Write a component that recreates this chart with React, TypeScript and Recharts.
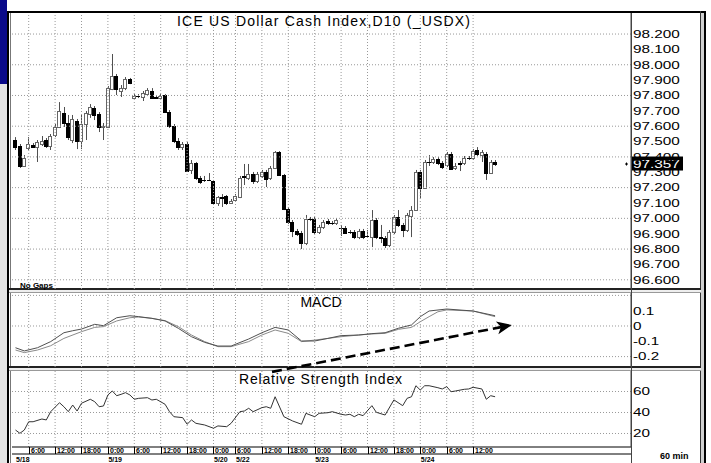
import { ComposedChart, Bar, Line, XAxis, YAxis, ReferenceLine } from "recharts";

const FONT = "'Liberation Sans', Arial, Helvetica, sans-serif";

// hourly bars from 5/18 3:00 to 5/24 13:00 : [open, high, low, close]
const ohlc: [number, number, number, number][] = [
  [97.51, 97.529, 97.445, 97.464], [97.471, 97.484, 97.328, 97.341], [97.341, 97.412, 97.335, 97.393],
  [97.458, 97.529, 97.445, 97.484], [97.477, 97.49, 97.458, 97.464], [97.464, 97.51, 97.367, 97.497],
  [97.484, 97.536, 97.471, 97.503], [97.51, 97.523, 97.458, 97.471], [97.471, 97.549, 97.445, 97.536],
  [97.542, 97.614, 97.529, 97.595], [97.595, 97.757, 97.588, 97.699], [97.686, 97.725, 97.595, 97.621],
  [97.621, 97.673, 97.51, 97.529], [97.51, 97.673, 97.49, 97.647], [97.634, 97.647, 97.451, 97.503],
  [97.503, 97.673, 97.451, 97.614], [97.614, 97.699, 97.51, 97.686], [97.679, 97.744, 97.654, 97.725],
  [97.718, 97.731, 97.64, 97.673], [97.679, 97.692, 97.562, 97.595], [97.595, 97.621, 97.51, 97.601],
  [97.595, 97.861, 97.588, 97.848], [97.842, 98.07, 97.835, 97.927], [97.927, 97.94, 97.803, 97.842],
  [97.829, 97.868, 97.79, 97.848], [97.848, 97.92, 97.835, 97.907], [97.907, 97.914, 97.874, 97.881],
  [97.783, 97.809, 97.777, 97.796], [97.796, 97.809, 97.783, 97.799], [97.79, 97.829, 97.764, 97.816],
  [97.809, 97.848, 97.796, 97.835], [97.829, 97.848, 97.777, 97.783], [97.79, 97.799, 97.777, 97.783],
  [97.783, 97.809, 97.777, 97.796], [97.803, 97.809, 97.686, 97.692], [97.692, 97.705, 97.588, 97.601],
  [97.601, 97.614, 97.49, 97.503], [97.503, 97.523, 97.445, 97.464], [97.464, 97.497, 97.445, 97.484],
  [97.484, 97.497, 97.302, 97.308], [97.315, 97.38, 97.289, 97.36], [97.36, 97.367, 97.25, 97.263],
  [97.263, 97.276, 97.224, 97.237], [97.25, 97.276, 97.237, 97.247], [97.247, 97.295, 97.243, 97.25],
  [97.243, 97.25, 97.087, 97.1], [97.1, 97.145, 97.081, 97.139], [97.139, 97.158, 97.074, 97.135],
  [97.145, 97.152, 97.087, 97.1], [97.1, 97.126, 97.094, 97.113], [97.119, 97.158, 97.113, 97.145],
  [97.139, 97.276, 97.132, 97.263], [97.276, 97.354, 97.217, 97.272], [97.263, 97.354, 97.25, 97.289],
  [97.289, 97.302, 97.224, 97.243], [97.243, 97.302, 97.23, 97.289], [97.276, 97.315, 97.263, 97.302],
  [97.302, 97.315, 97.204, 97.256], [97.263, 97.341, 97.25, 97.328], [97.328, 97.438, 97.321, 97.432],
  [97.432, 97.438, 97.276, 97.282], [97.282, 97.289, 97.054, 97.061], [97.061, 97.074, 96.963, 96.976],
  [96.976, 96.989, 96.878, 96.918], [96.918, 96.931, 96.885, 96.898], [96.905, 96.918, 96.8, 96.839],
  [96.839, 97.022, 96.826, 96.996], [96.996, 97.009, 96.983, 96.993], [96.996, 97.009, 96.898, 96.911],
  [96.911, 96.957, 96.898, 96.944], [96.944, 96.989, 96.931, 96.976], [96.983, 96.996, 96.957, 96.97],
  [96.97, 96.983, 96.957, 96.968], [96.97, 97.002, 96.957, 96.989], [96.937, 96.957, 96.885, 96.934],
  [96.937, 96.95, 96.898, 96.905], [96.911, 96.924, 96.898, 96.908], [96.911, 96.924, 96.865, 96.878],
  [96.878, 96.931, 96.865, 96.918], [96.918, 96.931, 96.865, 96.878], [96.885, 96.924, 96.872, 96.882],
  [96.878, 97.054, 96.813, 96.989], [96.989, 97.002, 96.865, 96.878], [96.878, 96.957, 96.839, 96.875],
  [96.872, 96.885, 96.807, 96.826], [96.826, 96.924, 96.813, 96.911], [96.911, 97.022, 96.898, 97.009],
  [97.009, 97.054, 96.944, 96.957], [96.957, 96.97, 96.878, 96.924], [96.924, 97.035, 96.911, 97.022],
  [97.015, 97.08, 96.878, 97.054], [97.054, 97.315, 97.048, 97.302], [97.302, 97.315, 97.132, 97.197],
  [97.197, 97.38, 97.191, 97.367], [97.367, 97.412, 97.341, 97.37], [97.367, 97.399, 97.354, 97.386],
  [97.386, 97.399, 97.347, 97.36], [97.36, 97.373, 97.321, 97.334], [97.347, 97.432, 97.334, 97.419],
  [97.419, 97.432, 97.315, 97.321], [97.328, 97.36, 97.315, 97.341], [97.36, 97.373, 97.308, 97.357],
  [97.36, 97.406, 97.347, 97.393], [97.393, 97.406, 97.38, 97.396], [97.393, 97.451, 97.38, 97.438],
  [97.445, 97.464, 97.406, 97.419], [97.412, 97.445, 97.367, 97.432], [97.419, 97.432, 97.25, 97.295],
  [97.295, 97.38, 97.289, 97.367], [97.367, 97.38, 97.341, 97.357],
];
const lastPrice = 97.357;

const priceTicks = [96.6, 96.7, 96.8, 96.9, 97.0, 97.1, 97.2, 97.3, 97.4, 97.5, 97.6, 97.7, 97.8, 97.9, 98.0, 98.1, 98.2];
const priceGrid = [96.6, 96.8, 97.0, 97.2, 97.4, 97.6, 97.8, 98.0, 98.2];

// bar index of each time label
const timeTicks = [3, 9, 15, 21, 27, 33, 39, 45, 50, 56, 62, 68, 74, 80, 86, 92, 98, 104];
const timeLabels = ["6:00", "12:00", "18:00", "0:00", "6:00", "12:00", "18:00", "0:00", "6:00", "12:00", "18:00", "0:00", "6:00", "12:00", "18:00", "0:00", "6:00", "12:00"];
const dateTicks = [0, 21, 45, 50, 68, 92];
const dateLabels = ["5/18", "5/19", "5/20", "5/22", "5/23", "5/24"];

// [bar index, value]
const macd: [number, number][] = [
  [0, -0.142], [2, -0.163], [5, -0.142], [8, -0.102], [11, -0.044], [13, -0.031], [15, -0.02], [18, 0.011],
  [20, 0.002], [23, 0.054], [26, 0.067], [28, 0.061], [31, 0.05], [34, 0.033], [37, -0.015], [40, -0.07],
  [43, -0.107], [46, -0.131], [49, -0.131], [53, -0.085], [56, -0.044], [59, -0.009], [62, -0.026], [65, -0.098],
  [68, -0.098], [71, -0.081], [74, -0.063], [78, -0.059], [81, -0.05], [84, -0.044], [87, -0.015], [90, 0.007],
  [92, 0.061], [94, 0.098], [98, 0.111], [104, 0.098], [109, 0.067],
];
const signal: [number, number][] = [
  [0, -0.157], [2, -0.174], [5, -0.157], [8, -0.129], [11, -0.081], [15, -0.037], [18, -0.009], [20, -0.004],
  [23, 0.033], [26, 0.054], [28, 0.059], [31, 0.05], [34, 0.035], [37, -0.004], [40, -0.059], [43, -0.102],
  [46, -0.135], [49, -0.135], [53, -0.102], [56, -0.059], [59, -0.026], [62, -0.048], [65, -0.102], [68, -0.092],
  [71, -0.081], [74, -0.07], [78, -0.059], [81, -0.052], [84, -0.048], [87, -0.022], [90, -0.009], [92, 0.028],
  [94, 0.061], [96, 0.093], [98, 0.105], [104, 0.098], [109, 0.061],
];
const rsi: [number, number][] = [
  [0, 23.3], [1, 20.2], [2, 23.3], [3, 31.2], [4, 31.2], [6, 33.8], [7, 32.9], [8, 40.8], [10, 49.3], [11, 45.5],
  [12, 40.8], [13, 47.1], [14, 41.4], [15, 48.8], [17, 52.6], [18, 50.3], [19, 45.5], [20, 46.2], [21, 56.7],
  [22, 60.5], [23, 56.0], [24, 57.3], [25, 58.9], [26, 56.7], [27, 52.6], [28, 53.5], [30, 54.1], [31, 51.9],
  [32, 52.6], [34, 47.8], [35, 40.8], [36, 36.0], [38, 35.1], [39, 28.8], [40, 32.9], [41, 29.7], [43, 28.1],
  [45, 25.0], [46, 27.2], [48, 26.5], [49, 29.7], [51, 40.8], [52, 41.4], [53, 44.0], [54, 40.8], [56, 44.6],
  [57, 45.5], [58, 44.0], [59, 55.0], [61, 36.0], [63, 31.9], [65, 28.8], [66, 39.2], [68, 36.0], [69, 39.2],
  [71, 39.8], [72, 40.8], [74, 38.3], [75, 37.6], [76, 38.3], [77, 36.0], [78, 38.3], [79, 37.0], [81, 46.5],
  [82, 40.2], [84, 37.6], [86, 52.0], [88, 46.5], [89, 53.5], [90, 55.0], [91, 65.5], [92, 61.4], [93, 65.5],
  [94, 65.5], [96, 63.6], [97, 62.4], [98, 64.6], [99, 59.8], [100, 60.5], [102, 62.1], [103, 62.4], [104, 64.0],
  [106, 62.4], [107, 52.6], [108, 56.0], [109, 55.0],
];

const macdTicks = [0.1, 0, -0.1, -0.2];
const macdGrid = [0.2, 0, -0.2];
const rsiTicks = [20, 40, 60];

// hand-drawn trend arrow, in (bar index, MACD value)
const arrowFrom = { x: 58.3, y: -0.3 };
const arrowTo = { x: 112.8, y: 0.0065 };

const X_DOMAIN: [number, number] = [-0.795, 139.886];

const candles = ohlc.map(([o, h, l, c], i) => ({ i, o, h, l, c }));
const toPts = (a: [number, number][]) => a.map(([i, v]) => ({ i, v }));

const gridStyle = { stroke: "#999", strokeDasharray: "1 2" };

const labelWidth = (s: string) =>
  s.split("").reduce((w, ch) => w + (ch === "." ? 4.3 : ch === "-" ? 4.8 : 8.5), 0);

const RightTick = ({ x, y, payload, fmt }: any) => {
  const s = fmt(payload.value);
  return (
    <text x={x + 2} y={y + 3.8} fontFamily={FONT} fontSize={11.5} fill="#000"
      textLength={labelWidth(s)} lengthAdjust="spacingAndGlyphs">
      {s}
    </text>
  );
};

const TimeTick = ({ x, y, payload }: any) => {
  const k = timeTicks.indexOf(payload.value);
  const px = Math.round(x) + 0.5;
  return (
    <g>
      <line x1={px} y1={y} x2={px} y2={y + 7} stroke="#000" />
      <text x={px + 1.5} y={y + 6.3} fontFamily={FONT} fontSize={7} fontWeight="bold" fill="#000">
        {timeLabels[k]}
      </text>
    </g>
  );
};

const DateTick = ({ x, y, payload }: any) => {
  const k = dateTicks.indexOf(payload.value);
  return (
    <text x={x + 0.5} y={y + 7.5} fontFamily={FONT} fontSize={7} fontWeight="bold" fill="#000">
      {dateLabels[k]}
    </text>
  );
};

const Candle = (props: any) => {
  const { x, y, width, height, payload } = props;
  const { o, h, l, c } = payload;
  const cx = Math.round(x + width / 2);
  const yOf = (v: number) => (h === l ? y : y + ((h - v) / (h - l)) * height);
  const top = Math.round(yOf(Math.max(o, c)));
  const bot = Math.round(yOf(Math.min(o, c)));
  const up = c >= o;
  return (
    <g>
      <line x1={cx + 0.5} y1={y} x2={cx + 0.5} y2={y + height} stroke="#505050" />
      {bot - top < 1 ? (
        <line x1={cx - 2} y1={top + 0.5} x2={cx + 2} y2={top + 0.5} stroke="#000" />
      ) : (
        <rect x={cx - 1.5} y={top + 0.5} width={3} height={bot - top}
          fill={up ? "#fff" : "#000"} stroke={up ? "#666" : "#000"} />
      )}
    </g>
  );
};

const PriceTag = (props: any) => {
  const vb = props.viewBox;
  const yy = vb.y;
  const xr = vb.x + vb.width;
  const s = lastPrice.toFixed(3);
  return (
    <g>
      <path d={`M${xr - 6} ${yy + 0.5}h3M${xr - 4.5} ${yy - 1}v3`} stroke="#000" />
      <rect x={xr + 1} y={yy - 7} width={51} height={14} fill="#000" />
      <text x={xr + 2} y={yy + 4} fontFamily={FONT} fontSize={11.5} fill="#fff"
        textLength={labelWidth(s)} lengthAdjust="spacingAndGlyphs">
        {s}
      </text>
    </g>
  );
};

const Arrow = (p: any) => {
  const { x1, y1, x2, y2 } = p;
  const a = Math.atan2(y2 - y1, x2 - x1);
  const cos = Math.cos(a);
  const sin = Math.sin(a);
  const L = 15;
  const W = 6.5;
  const bx = x2 - L * cos;
  const by = y2 - L * sin;
  const nx = x2 - (L - 4) * cos;
  const ny = y2 - (L - 4) * sin;
  return (
    <g>
      <line x1={x1} y1={y1} x2={nx} y2={ny} stroke="#000" strokeWidth={2.6} strokeDasharray="10 5" />
      <polygon
        points={`${x2},${y2} ${bx + W * sin},${by - W * cos} ${nx},${ny} ${bx - W * sin},${by + W * cos}`}
        fill="#000"
      />
    </g>
  );
};

const Frame = () => (
  <svg width={711} height={463} style={{ position: "absolute", left: 0, top: 0 }}>
    <rect width={711} height={463} fill="#fff" />
    <rect x={0} y={0} width={7} height={84} fill="#0a0a8a" />
    <rect x={0} y={84} width={7} height={379} fill="#e4e4e4" />
    <rect x={7} y={11} width={2} height={452} fill="#000" />
    <rect x={7} y={11} width={699} height={2} fill="#000" />
    <rect x={700} y={11} width={1} height={452} fill="#333" />
    <rect x={701} y={13} width={3} height={450} fill="#d0d0d0" />
    <rect x={704} y={11} width={2} height={452} fill="#000" />
    <rect x={10} y={13} width={1} height={450} fill="#777" />
    <rect x={9} y={288} width={692} height={2} fill="#222" />
    <rect x={9} y={290} width={692} height={2} fill="#eee" />
    <rect x={9} y={292} width={692} height={1} fill="#999" />
    <rect x={9} y={366} width={692} height={2} fill="#222" />
    <rect x={9} y={368} width={692} height={2} fill="#eee" />
    <rect x={9} y={370} width={692} height={1} fill="#999" />
    <rect x={631} y={13} width={1} height={450} fill="#444" />
  </svg>
);

const Titles = () => (
  <svg width={711} height={463} style={{ position: "absolute", left: 0, top: 0, pointerEvents: "none" }}>
    <text x={323.5} y={26} textAnchor="middle" fontFamily={FONT} fontSize={14} fill="#000"
      textLength={293} lengthAdjust="spacing">
      ICE US Dollar Cash Index,D10 (_USDX)
    </text>
    <text x={20} y={288} fontFamily={FONT} fontSize={8} fontWeight="bold" fill="#000">
      No  Gaps
    </text>
    <text x={321} y={307} textAnchor="middle" fontFamily={FONT} fontSize={14} fill="#000">
      MACD
    </text>
    <text x={320.5} y={384} textAnchor="middle" fontFamily={FONT} fontSize={14} fill="#000"
      textLength={163} lengthAdjust="spacing">
      Relative Strength Index
    </text>
    <text x={660} y={458.5} fontFamily={FONT} fontSize={9} fontWeight="bold" fill="#000">
      60  min
    </text>
  </svg>
);

const vGrid = (xAxisId?: string) =>
  timeTicks.map((t) => (
    <ReferenceLine key={`v${t}`} x={t} xAxisId={xAxisId ?? 0} {...gridStyle} />
  ));

export default function App() {
  return (
    <div style={{ position: "absolute", left: 0, top: 0, width: 711, height: 463, overflow: "hidden" }}>
      <Frame />

      <div style={{ position: "absolute", left: 0, top: 0 }}>
        <ComposedChart width={711} height={290} data={candles} margin={{ top: 13, right: 0, bottom: 1, left: 12 }}>
          <XAxis type="number" dataKey="i" domain={X_DOMAIN} allowDataOverflow hide />
          <YAxis orientation="right" width={80} domain={[96.54, 98.337]} allowDataOverflow
            ticks={priceTicks} interval={0} tickSize={0} tickMargin={0} tickLine={false}
            axisLine={{ stroke: "#444" }}
            tick={(p: any) => <RightTick {...p} fmt={(v: number) => v.toFixed(3)} />} />
          {priceGrid.map((v) => (
            <ReferenceLine key={`h${v}`} y={v} {...gridStyle} />
          ))}
          {vGrid()}
          <Bar dataKey={(d: any) => [d.l, d.h]} barSize={4} shape={<Candle />} isAnimationActive={false} />
          <ReferenceLine y={lastPrice} stroke="none" ifOverflow="visible" label={<PriceTag />} />
        </ComposedChart>
      </div>

      <div style={{ position: "absolute", left: 0, top: 290 }}>
        <ComposedChart width={711} height={85} margin={{ top: 3, right: 0, bottom: 8, left: 12 }}>
          <XAxis type="number" dataKey="i" domain={X_DOMAIN} allowDataOverflow hide />
          <YAxis orientation="right" width={80} domain={[-0.268, 0.2157]} allowDataOverflow
            ticks={macdTicks} interval={0} tickSize={0} tickMargin={0} tickLine={false}
            axisLine={{ stroke: "#444" }}
            tick={(p: any) => <RightTick {...p} fmt={(v: number) => String(v)} />} />
          {macdGrid.map((v) => (
            <ReferenceLine key={`h${v}`} y={v} {...gridStyle} />
          ))}
          {vGrid()}
          <Line data={toPts(signal)} dataKey="v" type="linear" dot={false} stroke="#8a8a8a"
            strokeWidth={1} isAnimationActive={false} />
          <Line data={toPts(macd)} dataKey="v" type="linear" dot={false} stroke="#505050"
            strokeWidth={1} isAnimationActive={false} />
          <ReferenceLine segment={[arrowFrom, arrowTo]} ifOverflow="visible" shape={<Arrow />} />
        </ComposedChart>
      </div>

      <div style={{ position: "absolute", left: 0, top: 368 }}>
        <ComposedChart width={711} height={95} margin={{ top: 3, right: 0, bottom: 0, left: 12 }}>
          <XAxis xAxisId="z" type="number" dataKey="i" domain={X_DOMAIN} allowDataOverflow
            ticks={dateTicks} interval={0} height={9} tickSize={0} tickMargin={0} tickLine={false}
            axisLine={{ stroke: "#000" }} tick={(p: any) => <DateTick {...p} />} />
          <XAxis xAxisId="a" type="number" dataKey="i" domain={X_DOMAIN} allowDataOverflow
            ticks={timeTicks} interval={0} height={7} tickSize={0} tickMargin={0} tickLine={false}
            axisLine={{ stroke: "#000" }} tick={(p: any) => <TimeTick {...p} />} />
          <YAxis orientation="right" width={80} domain={[7.14, 79.52]} allowDataOverflow
            ticks={rsiTicks} interval={0} tickSize={0} tickMargin={0} tickLine={false}
            axisLine={{ stroke: "#444" }}
            tick={(p: any) => <RightTick {...p} fmt={(v: number) => String(v)} />} />
          {rsiTicks.map((v) => (
            <ReferenceLine key={`h${v}`} y={v} xAxisId="a" {...gridStyle} />
          ))}
          {vGrid("a")}
          <Line xAxisId="a" data={toPts(rsi)} dataKey="v" type="linear" dot={false} stroke="#333"
            strokeWidth={1} isAnimationActive={false} />
        </ComposedChart>
      </div>

      <Titles />
    </div>
  );
}
